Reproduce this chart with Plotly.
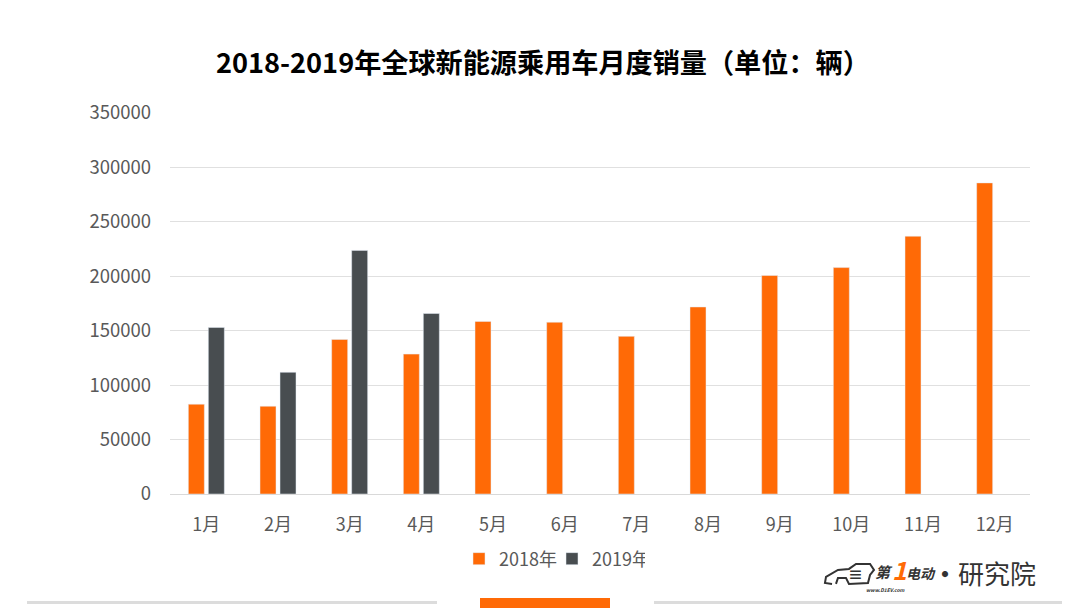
import plotly.graph_objects as go

months = ["1月", "2月", "3月", "4月", "5月", "6月", "7月", "8月", "9月", "10月", "11月", "12月"]
sales_2018 = [82500, 80600, 142000, 128500, 158500, 157800, 144800, 171800, 200700, 208000, 236800, 285800]
sales_2019 = [153000, 111800, 223800, 165800]
y_ticks = [0, 50000, 100000, 150000, 200000, 250000, 300000, 350000]

ORANGE = "#FF6A06"
DARK = "#484D50"
FONT = "Noto Sans CJK SC"
W, H = 1080, 608
LEFT, RIGHT, TOP, BOTTOM = 170, 1030, 112.6, 494


# paper coordinates are relative to the plot area, so convert from page pixels
def px(x):
    return (x - LEFT) / (RIGHT - LEFT)


def py(y):
    return (BOTTOM - y) / (BOTTOM - TOP)


fig = go.Figure()
fig.add_trace(go.Bar(name="2018年", x=months, y=sales_2018, marker_color=ORANGE))
fig.add_trace(go.Bar(name="2019年", x=months[:len(sales_2019)], y=sales_2019, marker_color=DARK))

# bottom decoration bars
shapes = []
for x0, x1 in [(27, 437), (654, 1062)]:
    shapes.append(dict(type="rect", xref="paper", yref="paper", x0=px(x0), x1=px(x1),
                       y0=py(604), y1=py(601), fillcolor="#DCDCDC", line_width=0))
shapes.append(dict(type="rect", xref="paper", yref="paper", x0=px(480), x1=px(610),
                   y0=py(608), y1=py(598), fillcolor=ORANGE, line_width=0))

# car outline of the logo, drawn in pixel positions
car = [(832, 584), (825, 583), (826, 577), (838, 570), (849, 569), (856, 564), (870, 564),
       (874, 570), (870, 575), (868, 583), (849, 584), (846, 578), (838, 578), (836, 584)]
car_path = "M " + " L ".join(f"{px(x):.4f},{py(y):.4f}" for x, y in car)
shapes.append(dict(type="path", xref="paper", yref="paper", path=car_path,
                   line=dict(color="#333333", width=2), fillcolor="rgba(0,0,0,0)"))

annotations = [
    dict(text="<b>2018-2019年全球新能源乘用车月度销量（单位：辆）</b>", x=px(543), y=py(61),
         font=dict(family=FONT, size=27.15, color="#000000")),
    dict(text="<b>≡</b>", x=px(855), y=py(574),
         font=dict(family=FONT, size=15, color="#333333")),
    dict(text="<b><i>第</i></b>", x=px(884), y=py(572),
         font=dict(family=FONT, size=15, color="#333333")),
    dict(text="<b><i>1</i></b>", x=px(899), y=py(569),
         font=dict(family=FONT, size=25, color=ORANGE)),
    dict(text="<b><i>电动</i></b>", x=px(921), y=py(573),
         font=dict(family=FONT, size=14, color="#333333")),
    dict(text="<b><i>www.D1EV.com</i></b>", x=px(886), y=py(590),
         font=dict(family=FONT, size=5, color="#333333")),
    dict(text="<b>•</b>", x=px(945), y=py(573),
         font=dict(family=FONT, size=24, color="#333333")),
    dict(text="研究院", x=px(997), y=py(573),
         font=dict(family=FONT, size=26, color="#333333")),
]
for a in annotations:
    a.update(xref="paper", yref="paper", showarrow=False, xanchor="center", yanchor="middle")

fig.update_layout(
    width=W,
    height=H,
    margin=dict(l=LEFT, r=W - RIGHT, t=TOP, b=H - BOTTOM),
    paper_bgcolor="white",
    plot_bgcolor="white",
    barmode="group",
    bargap=0.442,
    bargroupgap=0.2,
    font=dict(family=FONT, color="#595959"),
    legend=dict(orientation="h", x=px(552), xanchor="center", y=py(559), yanchor="middle",
                font=dict(size=18, color="#595959"), itemwidth=30, entrywidth=48),
    shapes=shapes,
    annotations=annotations,
)
fig.update_xaxes(range=[-0.507, 11.493], tickfont=dict(size=18), showline=True, linecolor="#D9D9D9", ticks="",
                 showgrid=False, ticklabelstandoff=14)
fig.update_yaxes(range=[0, 350000], tickvals=y_ticks, tickformat="d", tickfont=dict(size=18.5),
                 gridcolor="#E0E0E0", zeroline=False, ticks="", ticklabelstandoff=18)

fig.write_html("out.html", post_script="document.body.style.margin='0';", config={"displayModeBar": False})
